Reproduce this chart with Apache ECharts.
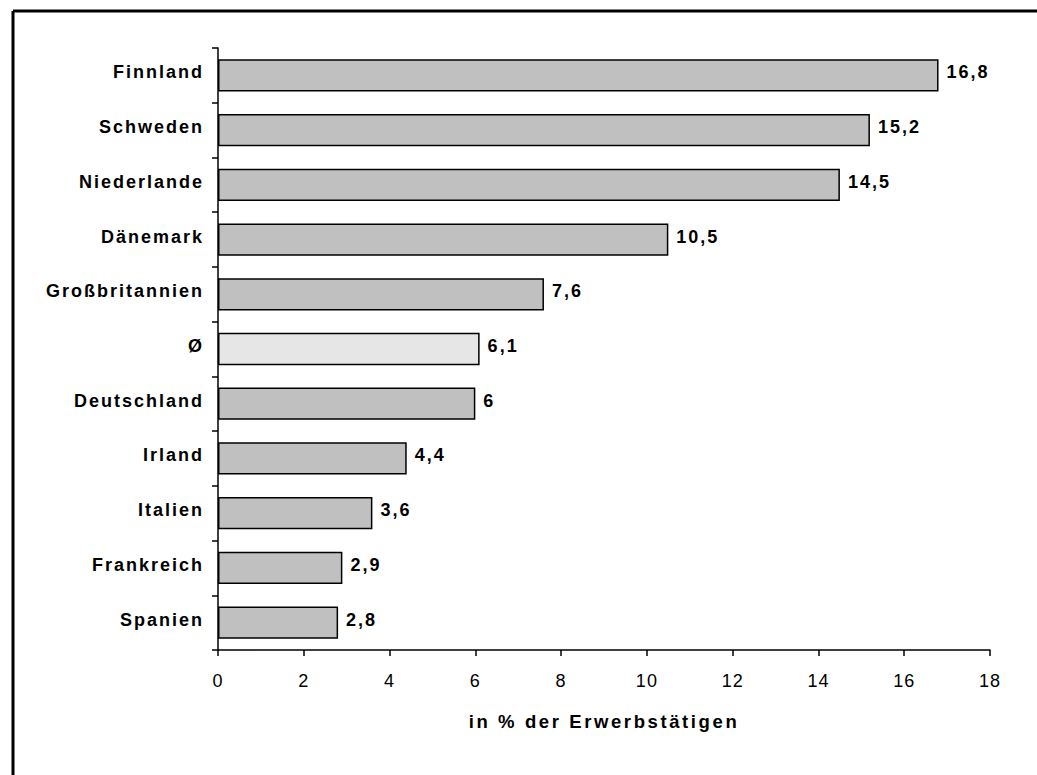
<!DOCTYPE html>
<html>
<head>
<meta charset="utf-8">
<script src="https://cdn.jsdelivr.net/npm/echarts@6/dist/echarts.min.js"></script>
<style>
  html, body { margin: 0; padding: 0; background: #fff; }
  #chart { width: 1037px; height: 775px; }
  /* the original uses widely spaced lettering */
  #chart text { letter-spacing: 1px; }
  #chart text[style*="bold"] { letter-spacing: 2px; }
  #chart text[style*="18.5px"] { letter-spacing: 2.6px; }
</style>
</head>
<body>
<div id="chart"></div>
<script>
const laender = ['Finnland', 'Schweden', 'Niederlande', 'Dänemark', 'Großbritannien', 'Ø',
  'Deutschland', 'Irland', 'Italien', 'Frankreich', 'Spanien']
const anteil = [16.8, 15.2, 14.5, 10.5, 7.6, 6.1, 6, 4.4, 3.6, 2.9, 2.8]
const xTicks = [0, 2, 4, 6, 8, 10, 12, 14, 16, 18]

const font = 'Liberation Sans, Arial, sans-serif'

const chart = echarts.init(document.getElementById('chart'), null, { renderer: 'svg' })
const option = {
  backgroundColor: '#fff',
  animation: false,
  graphic: [
    { type: 'line', shape: { x1: 13, y1: 11, x2: 1037, y2: 11 }, style: { stroke: '#000', lineWidth: 3 } },
    { type: 'line', shape: { x1: 13, y1: 11, x2: 13, y2: 775 }, style: { stroke: '#000', lineWidth: 3 } }
  ],
  grid: {
    left: 218,
    right: 47,
    top: 48,
    bottom: 125
  },
  xAxis: {
    type: 'value',
    min: xTicks[0],
    max: xTicks[xTicks.length - 1],
    interval: 2,
    name: 'in % der Erwerbstätigen',
    nameLocation: 'middle',
    nameGap: 62,
    nameTextStyle: {
      fontFamily: font,
      fontWeight: 'bold',
      fontSize: 18.5,
      color: '#000'
    },
    axisLine: { show: true, lineStyle: { color: '#000', width: 1.5 } },
    axisTick: { show: true, length: 6, lineStyle: { color: '#000', width: 1.5 } },
    axisLabel: {
      margin: 22,
      fontFamily: font,
      fontSize: 18,
      color: '#000'
    },
    splitLine: { show: false }
  },
  yAxis: {
    type: 'category',
    data: laender,
    inverse: true,
    axisLine: { show: true, lineStyle: { color: '#000', width: 1.5 } },
    axisTick: { show: true, length: 6, lineStyle: { color: '#000', width: 1.5 } },
    axisLabel: {
      margin: 14,
      verticalAlign: 'bottom',
      lineHeight: 6,
      fontFamily: font,
      fontWeight: 'bold',
      fontSize: 18,
      color: '#000'
    }
  },
  series: [
    {
      type: 'bar',
      data: anteil.map((v, i) => ({
        value: v,
        itemStyle: { color: laender[i] === 'Ø' ? '#E6E6E6' : '#C0C0C0' }
      })),
      barCategoryGap: '41%',
      itemStyle: {
        borderColor: '#000',
        borderWidth: 1.5
      },
      label: {
        show: true,
        position: 'right',
        distance: 8,
        offset: [0, -3],
        fontFamily: font,
        fontWeight: 'bold',
        fontSize: 18,
        color: '#000',
        formatter: (arg) => String(arg.value).replace('.', ',')
      }
    }
  ]
}
chart.setOption(option)
</script>
</body>
</html>
